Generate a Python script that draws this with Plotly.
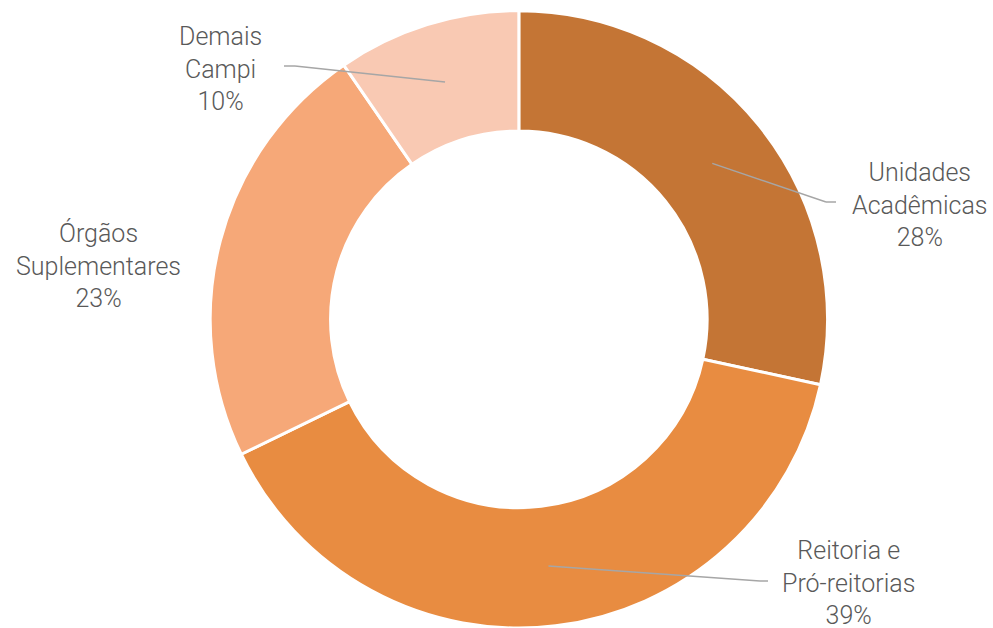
import math
import plotly.graph_objects as go

categories = ["Unidades<br>Acadêmicas", "Reitoria e<br>Pró-reitorias", "Órgãos<br>Suplementares", "Demais<br>Campi"]
values = [28.4, 39.4, 22.6, 9.6]
colors = ["#C47535", "#E88C41", "#F6A878", "#F9C9B3"]

W, H = 993, 628
dom_x = [0.045, 1.0]
dom_y = [0.0, 0.983]
hole = 0.61

# label layout (pixel centres of the middle text line) and leader-line bend points
label_pos = [(920, 205), (848, 583), (98, 265), (220, 69)]
leader_bend = [[(826, 202), (836, 202)], [(760, 581), (768, 581)], None, [(295, 66), (284, 66)]]

fig = go.Figure(go.Pie(
    labels=categories, values=values, sort=False, direction="clockwise", rotation=0,
    hole=hole, marker=dict(colors=colors, line=dict(color="white", width=3)),
    textinfo="none", hoverinfo="label+percent", domain=dict(x=dom_x, y=dom_y),
    showlegend=False,
))

# pie geometry derived from domain
cx = (dom_x[0] + dom_x[1]) / 2 * W
cy = (1 - (dom_y[0] + dom_y[1]) / 2) * H
R = min((dom_x[1] - dom_x[0]) * W, (dom_y[1] - dom_y[0]) * H) / 2
rmid = R * (1 + hole) / 2

total = sum(values)
shapes, annotations = [], []
cum = 0
for i, v in enumerate(values):
    mid = (cum + v / 2) / total * 2 * math.pi
    cum += v
    pct = round(v / total * 100)
    lx, ly = label_pos[i]
    annotations.append(dict(
        x=lx / W, y=1 - ly / H, xref="paper", yref="paper", xanchor="center", yanchor="middle",
        text=f"{categories[i]}<br>{pct}%", showarrow=False, align="center",
        font=dict(family="Roboto", size=25, color="#595959", weight=300),
    ))
    if leader_bend[i]:
        sx = cx + rmid * math.sin(mid)
        sy = cy - rmid * math.cos(mid)
        pts = [(sx, sy)] + leader_bend[i]
        for (x0, y0), (x1, y1) in zip(pts[:-1], pts[1:]):
            shapes.append(dict(type="line", xref="paper", yref="paper",
                               x0=x0 / W, y0=1 - y0 / H, x1=x1 / W, y1=1 - y1 / H,
                               line=dict(color="#A6A6A6", width=1.5)))

fig.update_layout(
    width=W, height=H, margin=dict(l=0, r=0, t=0, b=0),
    paper_bgcolor="white", plot_bgcolor="white",
    shapes=shapes, annotations=annotations,
)
fig.write_html("out.html", config={"displayModeBar": False},
               post_script="document.body.style.margin='0';document.body.style.overflow='hidden';")
